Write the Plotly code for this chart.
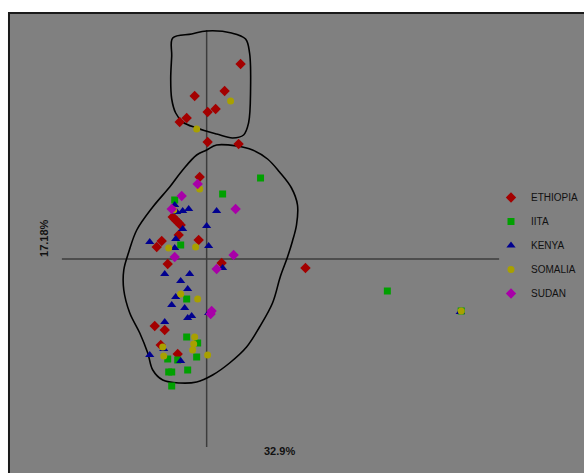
import plotly.graph_objects as go

# Principal-coordinate scores (PC1, PC2) per accession, grouped by origin
eth_x = [0.68, 0.36, -0.24, 0.18, 0.02, -0.40, -0.54, 0.02, 0.64, -0.14,
         -0.68, -0.64, -0.60, -0.56, -0.52, -0.56, -0.90, -0.16, -1.00, -0.78,
         0.30, 1.98, -1.04, -0.84, -0.92, -0.58]
eth_y = [3.90, 3.36, 3.26, 3.00, 2.94, 2.82, 2.74, 2.34, 2.30, 1.64,
         0.84, 0.80, 0.76, 0.72, 0.68, 0.48, 0.36, 0.38, 0.24, -0.10,
         -0.08, -0.18, -1.34, -1.42, -1.72, -1.90]

iita_x = [1.08, 0.32, -0.64, -0.52, -0.40, -0.40, -0.18, -0.78, -0.58, -0.20,
          -0.76, -0.70, -0.38, -0.70, 3.62, 5.10]
iita_y = [1.62, 1.30, 1.18, 0.28, -0.80, -1.56, -1.68, -2.00, -2.02, -1.96,
          -2.26, -2.26, -2.22, -2.54, -0.64, -1.04]

kenya_x = [-0.64, -0.60, -0.48, -0.36, 0.20, 0.00, -0.48, -0.62, -1.14, -0.64,
           0.04, 0.32, -0.84, -0.34, -0.52, -0.38, -0.62, -0.70, -0.44, 0.04,
           -0.30, -0.38, -0.84, -0.86, -1.14, -0.52, 5.08]
kenya_y = [1.08, 0.94, 0.96, 1.00, 0.96, 0.66, 0.60, 0.40, 0.34, 0.22,
           0.26, -0.18, -0.30, -0.30, -0.44, -0.60, -0.76, -0.92, -0.98, -1.08,
           -1.14, -1.18, -1.26, -1.80, -1.92, -2.04, -1.06]

somalia_x = [0.48, -0.20, -0.14, -0.66, -0.76, -0.22, -0.52, -0.18, -0.24, -0.26,
             -0.28, -0.88, -0.86, 0.02, 5.10]
somalia_y = [3.16, 2.60, 1.40, 0.98, 0.22, 0.24, -0.70, -0.80, -1.56, -1.70,
             -1.82, -1.76, -1.94, -1.92, -1.04]

sudan_x = [-0.18, -0.50, -0.70, 0.58, -0.64, 0.54, 0.20, 0.10, 0.08]
sudan_y = [1.50, 1.26, 1.00, 1.00, 0.04, 0.08, -0.20, -1.04, -1.10]

# Hand-drawn enclosures around the two clusters
upper_x = [-0.68, -0.30, 0.00, 0.50, 0.78, 0.86, 0.88, 0.84, 0.74, 0.52,
           0.20, -0.20, -0.48, -0.62, -0.70, -0.72, -0.70, -0.68]
upper_y = [4.42, 4.50, 4.56, 4.52, 4.40, 4.12, 3.40, 2.72, 2.48, 2.42,
           2.50, 2.62, 2.74, 2.92, 3.20, 3.60, 4.06, 4.42]

lower_x = [0.00, 0.20, 0.60, 0.92, 1.22, 1.46, 1.70, 1.82, 1.80, 1.72,
           1.62, 1.48, 1.32, 1.06, 0.80, 0.46, 0.12, -0.20, -0.54, -0.88,
           -1.08, -1.18, -1.34, -1.54, -1.66, -1.66, -1.56, -1.40, -1.08, -0.74,
           -0.48, -0.20, 0.00]
lower_y = [2.18, 2.28, 2.26, 2.18, 2.00, 1.74, 1.42, 1.08, 0.68, 0.36,
           0.04, -0.34, -0.88, -1.36, -1.76, -2.08, -2.32, -2.46, -2.48, -2.42,
           -2.22, -1.88, -1.48, -1.08, -0.62, -0.22, 0.14, 0.58, 1.04, 1.44,
           1.78, 2.08, 2.18]

axis_x_label = "32.9%"
axis_y_label = "17.18%"

series = [
    ("ETHIOPIA", eth_x, eth_y, "diamond", 8, "#a30000"),
    ("IITA", iita_x, iita_y, "square", 7, "#00a000"),
    ("KENYA", kenya_x, kenya_y, "triangle-up", 8, "#00008f"),
    ("SOMALIA", somalia_x, somalia_y, "circle", 7, "#a8a000"),
    ("SUDAN", sudan_x, sudan_y, "diamond", 8, "#a800a8"),
]

fig = go.Figure()

for ox, oy in [(upper_x, upper_y), (lower_x, lower_y)]:
    fig.add_trace(go.Scatter(
        x=ox, y=oy, mode="lines", line=dict(color="black", width=1.6, shape="spline", smoothing=1.0),
        showlegend=False, hoverinfo="skip"))

for i, (name, xs, ys, sym, sz, col) in enumerate(series):
    fig.add_trace(go.Scatter(
        x=xs, y=ys, mode="markers", name=name, legendgroup=f"g{i}",
        marker=dict(symbol=sym, size=sz, color=col, line=dict(width=0))))

# Gray chart area with dark frame on the top and left
fig.add_shape(type="rect", xref="paper", yref="paper",
              x0=9 / 584, x1=1.02, y0=-0.02, y1=1 - 13 / 473,
              fillcolor="#808080", line=dict(color="#1a1a1a", width=2), layer="below")

# Axis cross lines
fig.add_shape(type="line", xref="x", yref="y", x0=-2.90, x1=5.86, y0=0, y1=0,
              line=dict(color="#3c3c3c", width=1.5), layer="below")
fig.add_shape(type="line", xref="x", yref="y", x0=0, x1=0, y0=4.58, y1=-3.76,
              line=dict(color="#3c3c3c", width=1.5), layer="below")

fig.add_annotation(text=f"<b>{axis_x_label}</b>", xref="paper", yref="paper",
                   x=280 / 584, y=1 - 459 / 473, showarrow=False,
                   font=dict(family="Liberation Sans, Arial", size=11, color="#111111"))
fig.add_annotation(text=f"<b>{axis_y_label}</b>", xref="paper", yref="paper",
                   x=36 / 584, y=1 - 238 / 473, showarrow=False, textangle=-90,
                   font=dict(family="Liberation Sans, Arial", size=11, color="#111111"))

fig.update_layout(
    width=584, height=473,
    margin=dict(l=0, r=0, t=0, b=0),
    paper_bgcolor="white", plot_bgcolor="rgba(0,0,0,0)",
    xaxis=dict(range=[-4.14, 7.54], visible=False, fixedrange=True),
    yaxis=dict(range=[-4.28, 5.18], visible=False, fixedrange=True),
    legend=dict(x=492 / 584, y=1 - 183 / 473, xanchor="left", yanchor="top",
                bgcolor="rgba(0,0,0,0)", tracegroupgap=5,
                font=dict(family="Liberation Sans, Arial", size=10, color="#111111")),
    showlegend=True,
)

fig.write_html("out.html")
